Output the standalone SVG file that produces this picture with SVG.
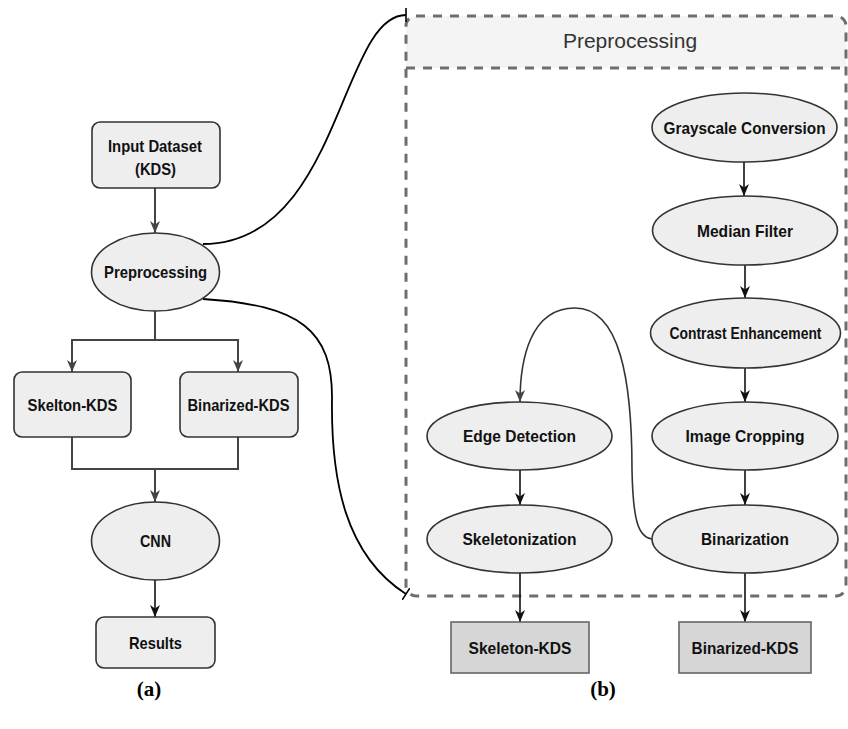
<svg xmlns="http://www.w3.org/2000/svg" width="848" height="729" viewBox="0 0 848 729">
<style>
.node{fill:#eeeeee;stroke:#333333;stroke-width:1.6}
.out{fill:#d6d6d6;stroke:#666666;stroke-width:1.6}
.lbl{font-family:"Liberation Sans",Arial,sans-serif;font-weight:bold;font-size:17px;fill:#111111;text-anchor:middle}
.cap{font-family:"Liberation Serif","Times New Roman",serif;font-weight:bold;font-size:21px;fill:#000;text-anchor:middle}
.ln{fill:none;stroke:#444444;stroke-width:2}
.lb{fill:none;stroke:#111111;stroke-width:1.6}
.dash{fill:none;stroke:#6e6e6e;stroke-width:3;stroke-dasharray:9 8}
</style>
<defs>
<marker id="ag" viewBox="0 0 12 12" refX="12" refY="6" markerWidth="12" markerHeight="12" markerUnits="userSpaceOnUse" orient="auto">
<path d="M0,1 L12,6 L0,11 L3.5,6 Z" fill="#444444"/>
</marker>
<marker id="ab" viewBox="0 0 12 12" refX="12" refY="6" markerWidth="12" markerHeight="12" markerUnits="userSpaceOnUse" orient="auto">
<path d="M0,1 L12,6 L0,11 L3.5,6 Z" fill="#111111"/>
</marker>
<marker id="tick" viewBox="0 0 3 14" refX="1.5" refY="7" markerWidth="3" markerHeight="14" markerUnits="userSpaceOnUse" orient="auto">
<path d="M1.5,0 V14" stroke="#000" stroke-width="1.6"/>
</marker>
</defs>

<g id="preprocessing-container">
<path d="M406,68 V26 Q406,16 416,16 H836 Q846,16 846,26 V68 Z" fill="#f4f4f4"/>
<rect x="406" y="16" width="440" height="580" rx="10" class="dash"/>
<line x1="406" y1="68" x2="846" y2="68" class="dash"/>
<text x="630" y="48" font-family="Liberation Sans,Arial,sans-serif" font-size="21" fill="#333333" text-anchor="middle">Preprocessing</text>
</g>

<g id="connectors">
<path class="ln" d="M155,188 V233" marker-end="url(#ag)"/>
<path class="ln" d="M155,311 V340 H72 V372" marker-end="url(#ag)"/>
<path class="ln" d="M155,340 H238 V372" marker-end="url(#ag)"/>
<path class="ln" d="M72,437 V469 H238 V437"/>
<path class="ln" d="M155,469 V502" marker-end="url(#ag)"/>
<path class="lb" d="M155,580 V617" stroke-width="2" marker-end="url(#ab)"/>
<path fill="none" stroke="#000" stroke-width="1.8" d="M203,244 C340,244 340,15 406,15" marker-end="url(#tick)"/>
<path fill="none" stroke="#000" stroke-width="1.8" d="M203,299 C300,305 333,330 332,400 C331,480 345,555 406,594" marker-end="url(#tick)"/>
<path class="lb" d="M744,162 V196" marker-end="url(#ab)"/>
<path class="lb" d="M745,265 V298" marker-end="url(#ab)"/>
<path class="lb" d="M745,368 V402" marker-end="url(#ab)"/>
<path class="lb" d="M745,470 V505" marker-end="url(#ab)"/>
<path class="lb" d="M520,470 V505" marker-end="url(#ab)"/>
<path class="lb" d="M520,573 V622" marker-end="url(#ab)"/>
<path class="lb" d="M745,573 V622" marker-end="url(#ab)"/>
<path fill="none" stroke="#333333" stroke-width="1.6" d="M652,539 C638,537 633,520 632,470 C632,380 620,308 575,308 C530,308 520,360 520,402" marker-end="url(#ag)"/>
</g>

<g id="input-dataset">
<rect x="92" y="122" width="128" height="66" rx="8" class="node"/>
<text x="155" y="152" class="lbl" textLength="94" lengthAdjust="spacingAndGlyphs">Input Dataset</text>
<text x="155.5" y="175" class="lbl" textLength="41" lengthAdjust="spacingAndGlyphs">(KDS)</text>
</g>
<g id="preprocessing">
<ellipse cx="155.5" cy="272" rx="64" ry="39" class="node"/>
<text x="155.5" y="278" class="lbl" textLength="103" lengthAdjust="spacingAndGlyphs">Preprocessing</text>
</g>
<g id="skelton-kds">
<rect x="14" y="372" width="117" height="65" rx="8" class="node"/>
<text x="72.5" y="410.5" class="lbl" textLength="90" lengthAdjust="spacingAndGlyphs">Skelton-KDS</text>
</g>
<g id="binarized-kds-left">
<rect x="180" y="372" width="118" height="65" rx="8" class="node"/>
<text x="238.5" y="410.5" class="lbl" textLength="102" lengthAdjust="spacingAndGlyphs">Binarized-KDS</text>
</g>
<g id="cnn">
<ellipse cx="155.5" cy="541" rx="64" ry="39" class="node"/>
<text x="155.5" y="547" class="lbl" textLength="31" lengthAdjust="spacingAndGlyphs">CNN</text>
</g>
<g id="results">
<rect x="96" y="617" width="119" height="51" rx="8" class="node"/>
<text x="155.5" y="648.5" class="lbl" textLength="53" lengthAdjust="spacingAndGlyphs">Results</text>
</g>

<g id="grayscale-conversion">
<ellipse cx="744.5" cy="127.5" rx="92.5" ry="34.5" class="node"/>
<text x="744.5" y="133.5" class="lbl" textLength="162" lengthAdjust="spacingAndGlyphs">Grayscale Conversion</text>
</g>
<g id="median-filter">
<ellipse cx="745" cy="230.5" rx="92.5" ry="34.5" class="node"/>
<text x="745" y="236.5" class="lbl" textLength="96" lengthAdjust="spacingAndGlyphs">Median Filter</text>
</g>
<g id="contrast-enhancement">
<ellipse cx="745.5" cy="333" rx="95" ry="35" class="node"/>
<text x="745.5" y="338.5" class="lbl" font-size="16" textLength="152" lengthAdjust="spacingAndGlyphs">Contrast Enhancement</text>
</g>
<g id="image-cropping">
<ellipse cx="745" cy="436" rx="93" ry="34" class="node"/>
<text x="745" y="442" class="lbl" textLength="119" lengthAdjust="spacingAndGlyphs">Image Cropping</text>
</g>
<g id="binarization">
<ellipse cx="745" cy="539" rx="93" ry="34" class="node"/>
<text x="745" y="545" class="lbl" textLength="88" lengthAdjust="spacingAndGlyphs">Binarization</text>
</g>
<g id="edge-detection">
<ellipse cx="519.5" cy="436" rx="92.5" ry="34" class="node"/>
<text x="519.5" y="442" class="lbl" textLength="113" lengthAdjust="spacingAndGlyphs">Edge Detection</text>
</g>
<g id="skeletonization">
<ellipse cx="519.5" cy="539" rx="92.5" ry="34" class="node"/>
<text x="519.5" y="545" class="lbl" textLength="114" lengthAdjust="spacingAndGlyphs">Skeletonization</text>
</g>
<g id="skeleton-kds">
<rect x="451" y="622" width="138" height="51" class="out"/>
<text x="520" y="653.5" class="lbl" textLength="103" lengthAdjust="spacingAndGlyphs">Skeleton-KDS</text>
</g>
<g id="binarized-kds-right">
<rect x="679" y="622" width="132" height="51" class="out"/>
<text x="745" y="653.5" class="lbl" textLength="107" lengthAdjust="spacingAndGlyphs">Binarized-KDS</text>
</g>

<text x="149" y="696" class="cap">(a)</text>
<text x="603" y="696" class="cap">(b)</text>
</svg>
